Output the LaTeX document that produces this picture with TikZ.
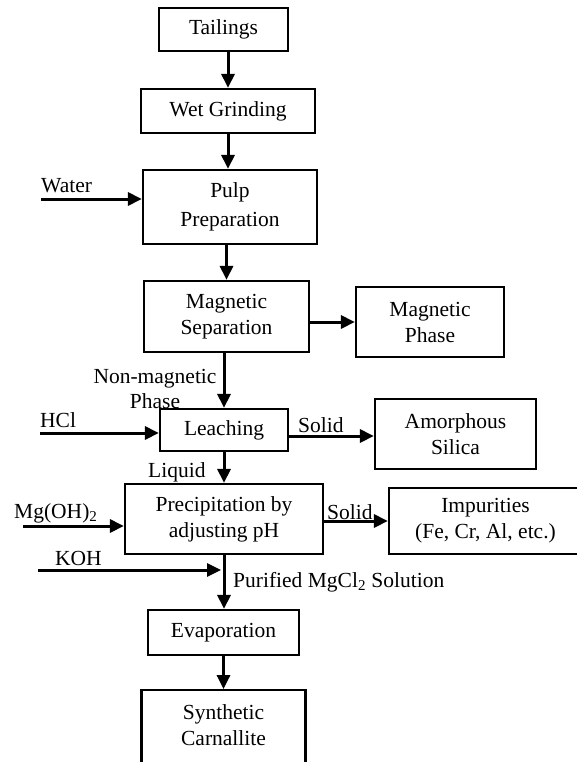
\documentclass[tikz,border=0pt]{standalone}
\usepackage{fontspec}
\setmainfont{Liberation Serif}
\usetikzlibrary{positioning, arrows.meta}

\tikzset{
  box/.style={draw, line width=2.2pt, inner sep=0pt, align=center, font=\fontsize{21.5}{26}\selectfont},
  lbl/.style={inner sep=0pt, font=\fontsize{21.5}{25}\selectfont},
  flow/.style={-{Triangle[length=14pt, width=13pt]}, line width=3pt},
}

\begin{document}
\begin{tikzpicture}[x=1pt, y=-1pt, on grid]
        \useasboundingbox (0,0) rectangle (576,762);

        % main column
        \node[box, minimum width=129pt, minimum height=43pt] (tail) at (223.5,29.5) {Tailings};
        \node[box, minimum width=174pt, minimum height=44pt] (grind) [below=81.5pt of tail, xshift=4.5pt] {Wet Grinding};
        \node[box, minimum width=174pt, minimum height=74pt, font=\fontsize{21.5}{29}\selectfont] (pulp) [below=96pt of grind, xshift=2pt] {Pulp\\Preparation};
        \node[box, minimum width=165pt, minimum height=71pt] (magsep) [below=109.5pt of pulp, xshift=-3.5pt] {Magnetic\\Separation};
        \node[box, minimum width=128pt, minimum height=42pt] (leach) [below=113.5pt of magsep, xshift=-2.5pt] {Leaching};
        \node[box, minimum width=198pt, minimum height=70pt] (prec) [below=89pt of leach] {Precipitation by\\adjusting pH};
        \node[box, minimum width=151pt, minimum height=45pt] (evap) [below=113.5pt of prec, xshift=-0.5pt] {Evaporation};
        \node[box, minimum width=164pt, inner ysep=14pt, text depth=60pt, anchor=north] (synth) at ([yshift=-33pt]evap.south) {Synthetic\\Carnallite};

        % side products
        \node[box, minimum width=148pt, minimum height=70pt] (magph) [right=203.5pt of magsep, yshift=-5.5pt] {Magnetic\\Phase};
        \node[box, minimum width=161pt, minimum height=70pt] (silica) [right=231.5pt of leach, yshift=-4pt] {Amorphous\\Silica};
        \node[box, minimum width=193pt, minimum height=66pt] (impur) [right=261.5pt of prec, yshift=-2pt] {Impurities\\(Fe, Cr, Al, etc.)};

        % feeds
        \coordinate (water) at (41,199);
        \coordinate (hcl) at (40,433);
        \coordinate (mgoh) at (23,526);
        \coordinate (koh) at (38,570);
        \node[lbl, anchor=base west] (waterlbl) at (41,193) {Water};
        \node[lbl, anchor=base west] (hcllbl) at (40,427) {HCl};
        \node[lbl, anchor=base west] (mgohlbl) at (14,518) {Mg(OH)\textsubscript{2}};
        \node[lbl, anchor=base west] (kohlbl) at (55,565) {KOH};

        % stream labels
        \node[lbl, align=center] (nonmag) at (155,388.5) {Non-magnetic\\Phase};
        \node[lbl, anchor=base west] (liquid) at (148,477) {Liquid};
        \node[lbl, anchor=base west] (solidA) at (298,432) {Solid};
        \node[lbl, anchor=base west] (solidB) at (327,519) {Solid};
        \node[lbl, anchor=base west] (purified) at (233,587) {Purified MgCl\textsubscript{2} Solution};

        \draw[flow] (tail.south -| grind.north) -- (grind.north);
        \draw[flow] (grind.south) -- (grind.south |- pulp.north);
        \draw[flow] (pulp.south -| magsep.north) -- (magsep.north);
        \draw[flow] (magsep.south -| leach.north) -- (leach.north);
        \draw[flow] (leach) -- (prec);
        \draw[flow] (prec.south) -- (prec.south |- evap.north);
        \draw[flow] (evap) -- (synth);
        \draw[flow] (magsep.east |- magph.west) -- (magph.west);
        \draw[flow] ([yshift=-6pt]leach.east) -- ([yshift=-6pt]leach.east -| silica.west);
        \draw[flow] (prec.east |- impur.west) -- (impur.west);
        \draw[flow] (water) -- (water -| pulp.west);
        \draw[flow] (hcl) -- (hcl -| leach.west);
        \draw[flow] (mgoh) -- (mgoh -| prec.west);
        \draw[flow, shorten >=3pt] (koh) -- (koh -| prec.south);
\end{tikzpicture}
\end{document}
